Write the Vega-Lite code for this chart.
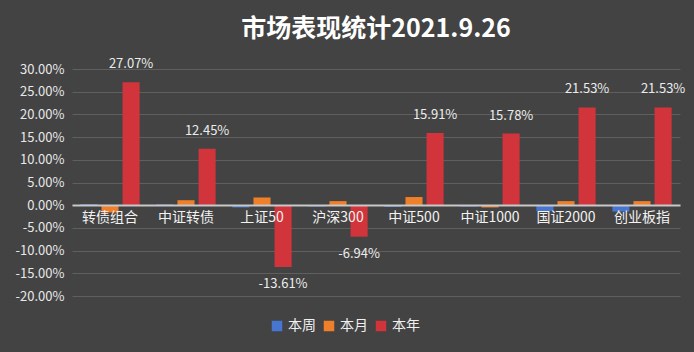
{
  "$schema": "https://vega.github.io/schema/vega-lite/v6.json",
  "width": 608,
  "height": 227,
  "autosize": {"type": "none"},
  "padding": {"left": 72, "top": 69, "right": 14, "bottom": 56},
  "background": "#434343",
  "config": {
    "view": {"stroke": null},
    "font": "Noto Sans CJK SC",
    "locale": {"number": {"decimal": ".", "thousands": ",", "grouping": [3], "currency": ["$", ""], "minus": "-"}}
  },
  "title": {
    "text": "市场表现统计2021.9.26",
    "color": "#ffffff",
    "fontSize": 25,
    "fontWeight": "bold",
    "font": "Noto Sans CJK SC",
    "anchor": "middle",
    "offset": 16
  },
  "data": {
    "values": [
      {"cat": "转债组合", "series": "本周", "value": 0.0025},
      {"cat": "转债组合", "series": "本月", "value": -0.016},
      {"cat": "转债组合", "series": "本年", "value": 0.2707},
      {"cat": "中证转债", "series": "本周", "value": 0.002},
      {"cat": "中证转债", "series": "本月", "value": 0.011},
      {"cat": "中证转债", "series": "本年", "value": 0.1245},
      {"cat": "上证50", "series": "本周", "value": -0.005},
      {"cat": "上证50", "series": "本月", "value": 0.017},
      {"cat": "上证50", "series": "本年", "value": -0.1361},
      {"cat": "沪深300", "series": "本周", "value": -0.003},
      {"cat": "沪深300", "series": "本月", "value": 0.009},
      {"cat": "沪深300", "series": "本年", "value": -0.0694},
      {"cat": "中证500", "series": "本周", "value": -0.004},
      {"cat": "中证500", "series": "本月", "value": 0.018},
      {"cat": "中证500", "series": "本年", "value": 0.1591},
      {"cat": "中证1000", "series": "本周", "value": -0.003},
      {"cat": "中证1000", "series": "本月", "value": -0.005},
      {"cat": "中证1000", "series": "本年", "value": 0.1578},
      {"cat": "国证2000", "series": "本周", "value": -0.013},
      {"cat": "国证2000", "series": "本月", "value": 0.009},
      {"cat": "国证2000", "series": "本年", "value": 0.2153},
      {"cat": "创业板指", "series": "本周", "value": -0.014},
      {"cat": "创业板指", "series": "本月", "value": 0.009},
      {"cat": "创业板指", "series": "本年", "value": 0.2153}
    ]
  },
  "encoding": {
    "x": {
      "field": "cat",
      "type": "nominal",
      "sort": null,
      "scale": {"paddingInner": 0.22, "paddingOuter": 0.11},
      "axis": {
        "title": null,
        "orient": "bottom",
        "offset": -91,
        "labelAngle": 0,
        "labelColor": "#f2f2f2",
        "labelFontSize": 14,
        "labelPadding": 5,
        "ticks": false,
        "domain": true,
        "domainColor": "#c8c8c8",
        "domainWidth": 2,
        "grid": false,
        "zindex": 1
      }
    },
    "xOffset": {
      "field": "series",
      "type": "nominal",
      "sort": ["本周", "本月", "本年"],
      "scale": {"paddingInner": 0.19, "paddingOuter": 0}
    },
    "y": {
      "field": "value",
      "type": "quantitative",
      "scale": {"domain": [-0.2, 0.3], "nice": false, "zero": true},
      "axis": {
        "title": null,
        "format": ".2%",
        "values": [-0.2, -0.15, -0.1, -0.05, 0, 0.05, 0.1, 0.15, 0.2, 0.25, 0.3],
        "labelColor": "#e8e8e8",
        "labelFontSize": 13,
        "labelPadding": 8,
        "ticks": false,
        "domain": false,
        "gridColor": "#5f5f5f",
        "gridWidth": 1
      }
    }
  },
  "layer": [
    {
      "mark": {"type": "bar"},
      "encoding": {
        "color": {
          "field": "series",
          "type": "nominal",
          "sort": ["本周", "本月", "本年"],
          "scale": {"domain": ["本周", "本月", "本年"], "range": ["#4676cf", "#f07f2a", "#d1343a"]},
          "legend": {
            "title": null,
            "orient": "none",
            "legendX": 198,
            "legendY": 250,
            "direction": "horizontal",
            "symbolType": "square",
            "symbolSize": 110,
            "symbolStrokeWidth": 0,
            "labelColor": "#f0f0f0",
            "labelFontSize": 14,
            "labelOffset": 4,
            "columnPadding": 6
          }
        }
      }
    },
    {
      "transform": [{"filter": "datum.series === '本年' && datum.value >= 0"}],
      "mark": {"type": "text", "baseline": "bottom", "dy": -11, "color": "#ececec", "fontSize": 13},
      "encoding": {"text": {"field": "value", "type": "quantitative", "format": ".2%"}}
    },
    {
      "transform": [{"filter": "datum.series === '本年' && datum.value < 0"}],
      "mark": {"type": "text", "baseline": "top", "dy": 11, "color": "#ececec", "fontSize": 13},
      "encoding": {"text": {"field": "value", "type": "quantitative", "format": ".2%"}}
    }
  ]
}
